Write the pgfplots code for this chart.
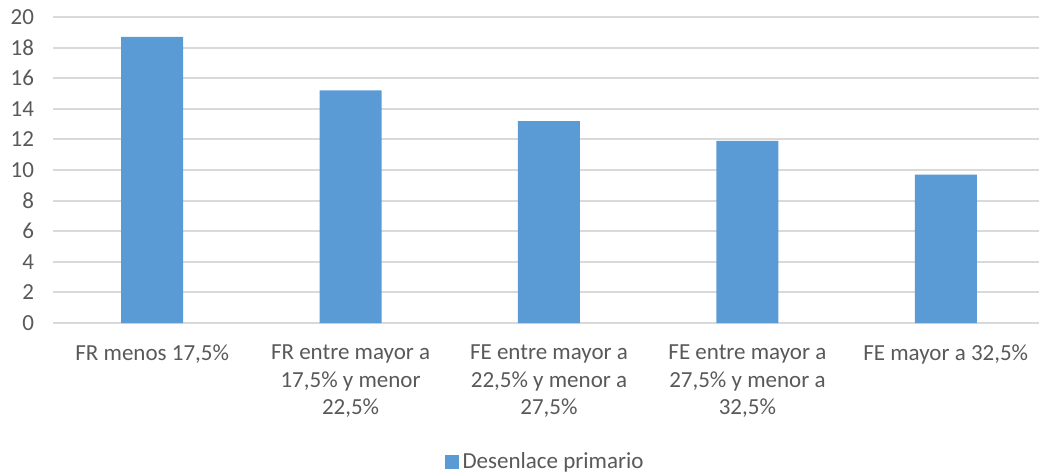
\documentclass[border=0pt]{standalone}
\usepackage{pgfplots}
\pgfplotsset{compat=1.18}
\usepackage{fontspec}
\setmainfont{Carlito}
\definecolor{barblue}{HTML}{5B9BD5}
\definecolor{gridgray}{HTML}{D9D9D9}
\definecolor{textgray}{HTML}{595959}
\begin{document}
\begin{tikzpicture}
\begin{axis}[
  scale only axis,
  width=493pt, height=153pt,
  ybar, bar width=31pt,
  xmin=-0.5, xmax=4.47, ymin=0, ymax=20,
  ytick={0,2,...,20},
  xtick={0,1,2,3,4},
  xticklabels={{FR menos 17,5\%},
    {FR entre mayor a\\17,5\% y menor\\22,5\%},
    {FE entre mayor a\\22,5\% y menor a\\27,5\%},
    {FE entre mayor a\\27,5\% y menor a\\32,5\%},
    {FE mayor a 32,5\%}},
  ymajorgrids,
  grid style={gridgray, line width=1pt},
  axis line style={draw=none},
  major tick length=0pt,
  /pgf/number format/assume math mode=true,
  tick label style={font=\fontsize{11.5}{13.75}\selectfont, text=textgray},
  xticklabel style={align=center, yshift=-7.5pt},
  yticklabel style={xshift=-6pt},
  legend style={at={(0.5,0)}, anchor=center, yshift=-69.5pt, draw=none,
    font=\fontsize{11.5}{13.75}\selectfont, text=textgray},
  legend image code/.code={\fill[barblue] (0pt,-3.5pt) rectangle (7pt,3.5pt);},
]
\addplot[fill=barblue, draw=none] coordinates {(0,18.7) (1,15.2) (2,13.2) (3,11.9) (4,9.7)};
\addlegendentry{Desenlace primario}
\coordinate (o) at (rel axis cs:0,0);
\coordinate (t) at (rel axis cs:1,1);
\end{axis}
\pgfresetboundingbox
\path[use as bounding box] ([xshift=-26.5pt,yshift=-75pt]o) rectangle ([yshift=8.5pt]t);
\end{tikzpicture}
\end{document}
